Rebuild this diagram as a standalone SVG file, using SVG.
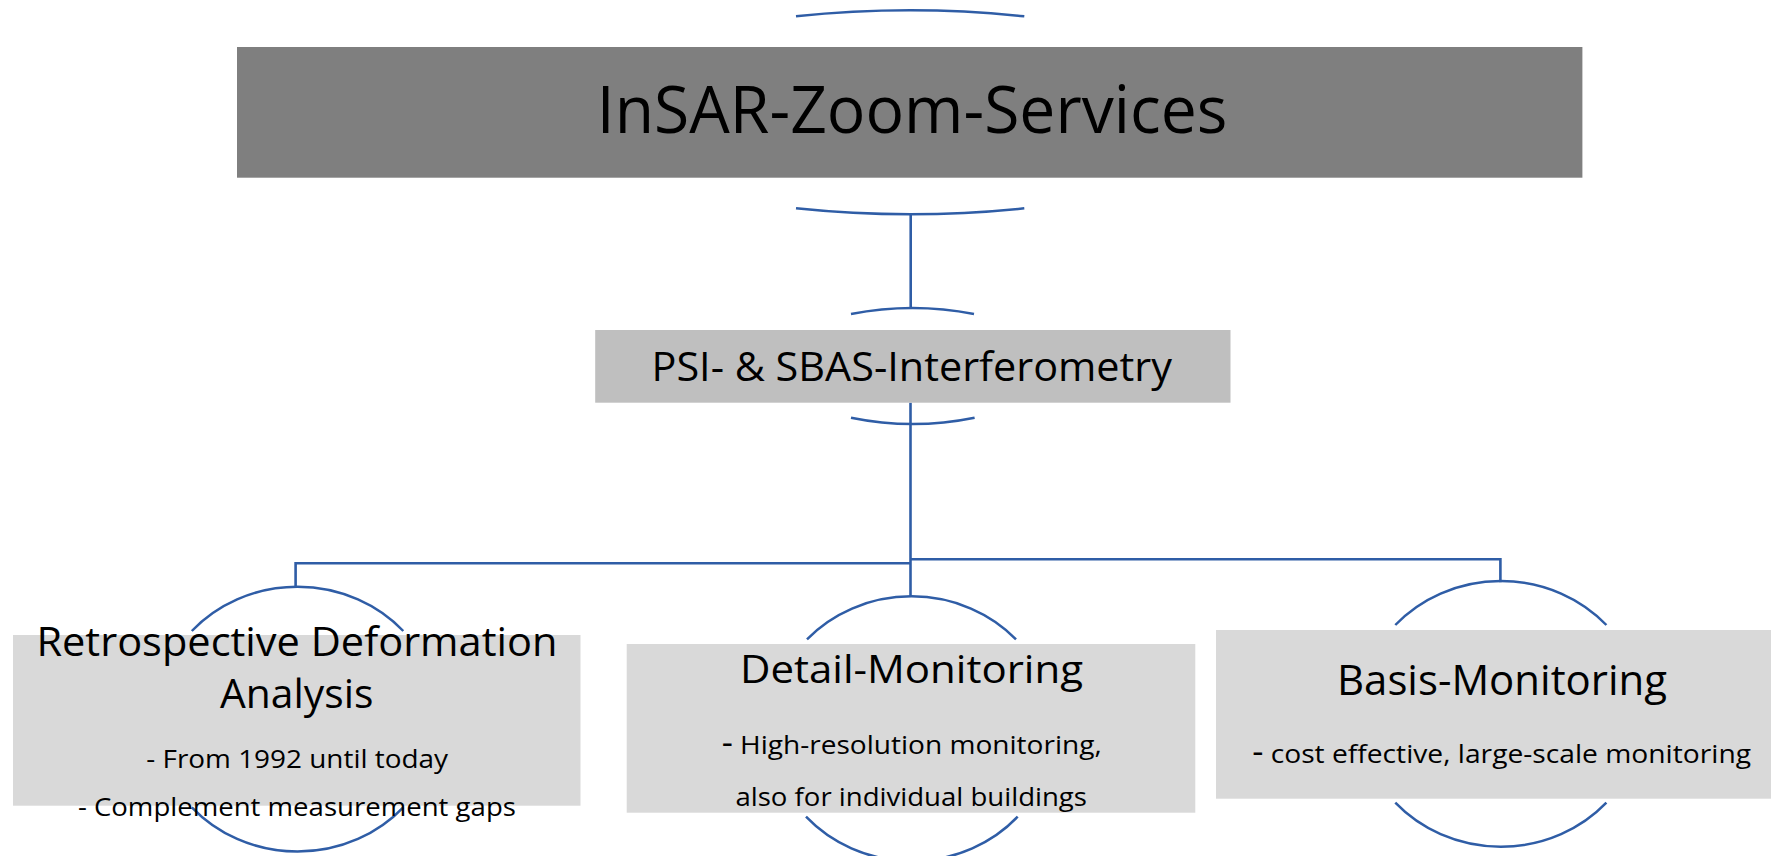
<svg xmlns="http://www.w3.org/2000/svg" width="1771" height="856" viewBox="0 0 1771 856">
<style>
.bg{fill:#ffffff}
.arc{fill:none;stroke:#2F5DA6;stroke-width:2.5}
.con{fill:none;stroke:#2F5DA6;stroke-width:2.6}
.t{font-family:"Open Sans","Noto Sans","Liberation Sans",sans-serif;fill:#000000}
.lvl0{fill:#7F7F7F}
.lvl1{fill:#BFBFBF}
.lvl2{fill:#D9D9D9}
</style>
<rect class="bg" x="0" y="0" width="1771" height="856"/>
<g id="connectors">
<path class="con" d="M910.7 214.3 V308.3"/>
<path class="con" d="M910.5 402.7 V596"/>
<path class="con" d="M910.5 563.3 H295.6 V586.7"/>
<path class="con" d="M910.5 559.3 H1500.4 V582.3"/>
</g>
<g id="node-insar">
<path class="arc" d="M796 16.3 Q910 4.3 1024.3 16.3"/>
<path class="arc" d="M796 208.3 Q910 220.3 1024.3 208.3"/>
<rect class="lvl0" x="237" y="47" width="1345.4" height="130.7"/>
<text class="t" x="596.8" y="133.3" font-size="65" textLength="630.5" lengthAdjust="spacingAndGlyphs">InSAR-Zoom-Services</text>
</g>
<g id="node-psi">
<path class="arc" d="M851 314 Q912.5 302 974 314"/>
<path class="arc" d="M851 417.7 Q912.8 430.3 974.6 417.7"/>
<rect class="lvl1" x="595.2" y="330" width="635.3" height="72.7"/>
<text class="t" x="651.5" y="381" font-size="41" textLength="520.5" lengthAdjust="spacingAndGlyphs">PSI- &amp; SBAS-Interferometry</text>
</g>
<g id="node-retro">
<path class="arc" d="M191.8 631 A142 133 0 0 1 403.3 631"/>
<path class="arc" d="M191.8 807.3 A142 133 0 0 0 403.3 807.3"/>
<rect class="lvl2" x="13" y="635" width="567.5" height="170.7"/>
<text class="t" x="36.4" y="655.7" font-size="40" textLength="521" lengthAdjust="spacingAndGlyphs">Retrospective Deformation</text>
<text class="t" x="220" y="708.3" font-size="40" textLength="153.4" lengthAdjust="spacingAndGlyphs">Analysis</text>
<text class="t" x="146.3" y="767.7" font-size="26" textLength="301.7" lengthAdjust="spacingAndGlyphs">- From 1992 until today</text>
<text class="t" x="77.9" y="816" font-size="26" textLength="438" lengthAdjust="spacingAndGlyphs">- Complement measurement gaps</text>
</g>
<g id="node-detail">
<path class="arc" d="M807 639.3 A142 133 0 0 1 1016 639.3"/>
<path class="arc" d="M806 816.7 A142 133 0 0 0 1017.7 816.7"/>
<rect class="lvl2" x="626.7" y="644" width="568.6" height="168.7"/>
<text class="t" x="740" y="682.7" font-size="39" textLength="343" lengthAdjust="spacingAndGlyphs">Detail-Monitoring</text>
<text class="t" x="721.7" y="754" font-size="26" textLength="380" lengthAdjust="spacingAndGlyphs"><tspan font-size="32">-</tspan> High-resolution monitoring,</text>
<text class="t" x="735.4" y="805.7" font-size="26" textLength="351.6" lengthAdjust="spacingAndGlyphs">also for individual buildings</text>
</g>
<g id="node-basis">
<path class="arc" d="M1395.3 625 A142 133 0 0 1 1606.4 625"/>
<path class="arc" d="M1395.3 802.7 A142 133 0 0 0 1606.4 802.7"/>
<rect class="lvl2" x="1216" y="630" width="560" height="168.7"/>
<text class="t" x="1337" y="695" font-size="42" textLength="330" lengthAdjust="spacingAndGlyphs">Basis-Monitoring</text>
<text class="t" x="1252.2" y="762.7" font-size="26" textLength="498.8" lengthAdjust="spacingAndGlyphs"><tspan font-size="32">-</tspan> cost effective, large-scale monitoring</text>
</g>
</svg>
